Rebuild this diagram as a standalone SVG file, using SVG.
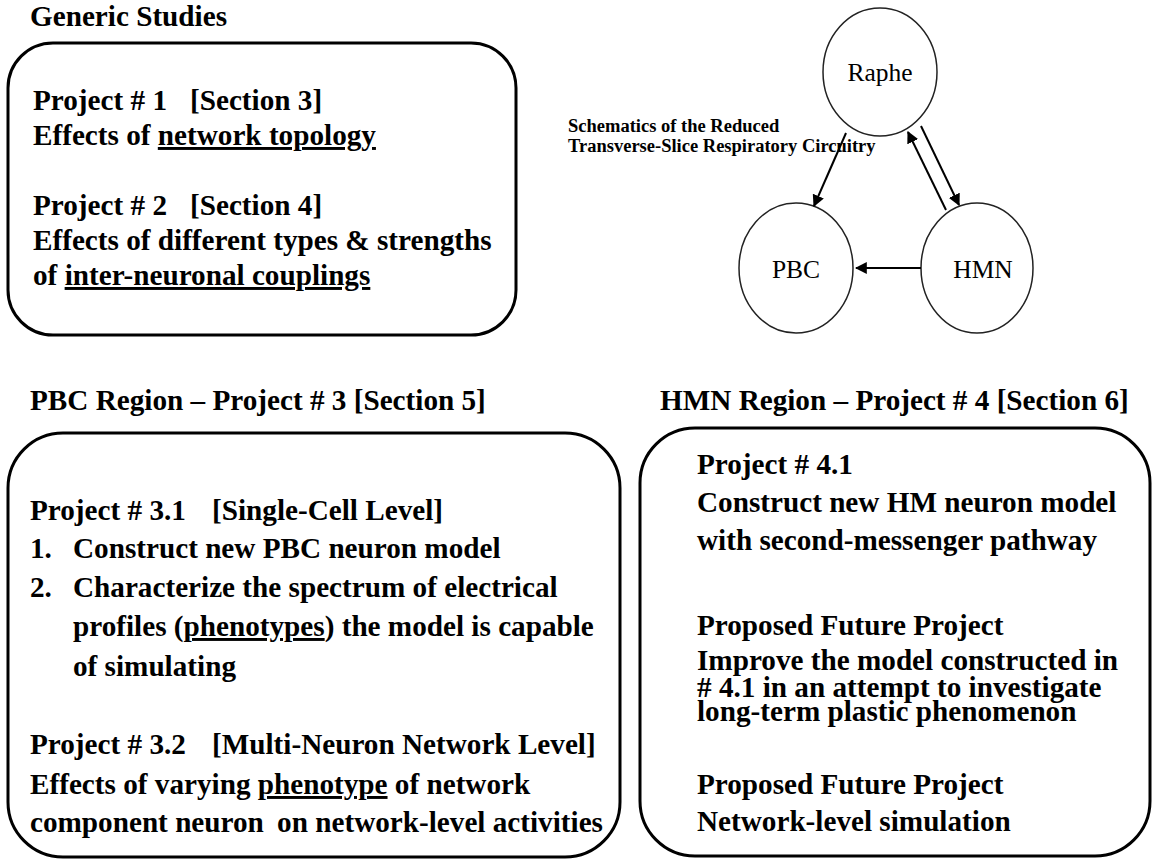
<svg xmlns="http://www.w3.org/2000/svg" width="1157" height="862" viewBox="0 0 1157 862">
<style>
text{font-family:'Liberation Serif','Times New Roman',Times,'DejaVu Serif',serif}
.t{font-weight:bold;font-size:29.2px;fill:#000}
.s{font-weight:bold;font-size:18.5px;fill:#000}
.n{font-weight:normal;font-size:25.5px;fill:#000;text-anchor:middle}
.box{fill:none;stroke:#000;stroke-width:3}
.c{fill:#fff;stroke:#222;stroke-width:1.5}
.e{stroke:#000;stroke-width:2;fill:none;marker-end:url(#ah)}
.u{text-decoration:underline}
</style>
<defs>
<marker id="ah" viewBox="0 0 10 10" refX="9" refY="5" markerWidth="6" markerHeight="6" orient="auto" markerUnits="strokeWidth">
<path d="M0,0 L10,5 L0,10 z" fill="#000"/>
</marker>
</defs>
<rect width="1157" height="862" fill="#fff"/>

<g id="generic">
<text class="t" x="30" y="26">Generic Studies</text>
<rect class="box" x="8" y="43" width="508" height="292" rx="45"/>
<text class="t" x="33" y="110">Project # 1<tspan x="190">[Section 3]</tspan></text>
<text class="t" x="33" y="145">Effects of <tspan class="u">network topology</tspan></text>
<text class="t" x="33" y="215">Project # 2<tspan x="190">[Section 4]</tspan></text>
<text class="t" x="33" y="250">Effects of different types &amp; strengths</text>
<text class="t" x="33" y="285">of <tspan class="u">inter-neuronal couplings</tspan></text>
</g>

<g id="caption">
<text class="s" x="568" y="132">Schematics of the Reduced</text>
<text class="s" x="568" y="152">Transverse-Slice Respiratory Circuitry</text>
</g>

<g id="raphe">
<ellipse class="c" cx="880" cy="72" rx="57" ry="64"/>
<text class="n" x="880" y="81">Raphe</text>
</g>
<g id="pbc">
<ellipse class="c" cx="796" cy="268" rx="57" ry="65"/>
<text class="n" x="796" y="278">PBC</text>
</g>
<g id="hmn">
<ellipse class="c" cx="977" cy="268" rx="56" ry="65"/>
<text class="n" x="983" y="278">HMN</text>
</g>

<g id="connectors">
<line class="e" x1="846" y1="133" x2="814" y2="206"/>
<line class="e" x1="946" y1="210" x2="908" y2="132"/>
<line class="e" x1="921" y1="126" x2="959" y2="205"/>
<line class="e" x1="921" y1="268" x2="856" y2="268"/>
</g>

<g id="pbc-region">
<text class="t" x="30" y="410">PBC Region – Project # 3 [Section 5]</text>
<rect class="box" x="8" y="433" width="612" height="424" rx="55"/>
<text class="t" x="30" y="520">Project # 3.1<tspan x="212">[Single-Cell Level]</tspan></text>
<text class="t" x="30" y="558">1.<tspan x="73">Construct new PBC neuron model</tspan></text>
<text class="t" x="30" y="597">2.<tspan x="73">Characterize the spectrum of electrical</tspan></text>
<text class="t" x="73" y="636">profiles (<tspan class="u">phenotypes</tspan>) the model is capable</text>
<text class="t" x="73" y="676">of simulating</text>
<text class="t" x="30" y="754">Project # 3.2<tspan x="212">[Multi-Neuron Network Level]</tspan></text>
<text class="t" x="30" y="794">Effects of varying <tspan class="u">phenotype</tspan> of network</text>
<text class="t" x="30" y="832">component neuron <tspan dx="6">on network-level activities</tspan></text>
</g>

<g id="hmn-region">
<text class="t" x="660" y="410">HMN Region – Project # 4 [Section 6]</text>
<rect class="box" x="640" y="428" width="510" height="428" rx="55"/>
<text class="t" x="697" y="474">Project # 4.1</text>
<text class="t" x="697" y="512">Construct new HM neuron model</text>
<text class="t" x="697" y="550">with second-messenger pathway</text>
<text class="t" x="697" y="635">Proposed Future Project</text>
<text class="t" x="697" y="670">Improve the model constructed in</text>
<text class="t" x="697" y="697"># 4.1 in an attempt to investigate</text>
<text class="t" x="697" y="721">long-term plastic phenomenon</text>
<text class="t" x="697" y="794">Proposed Future Project</text>
<text class="t" x="697" y="831">Network-level simulation</text>
</g>
</svg>
